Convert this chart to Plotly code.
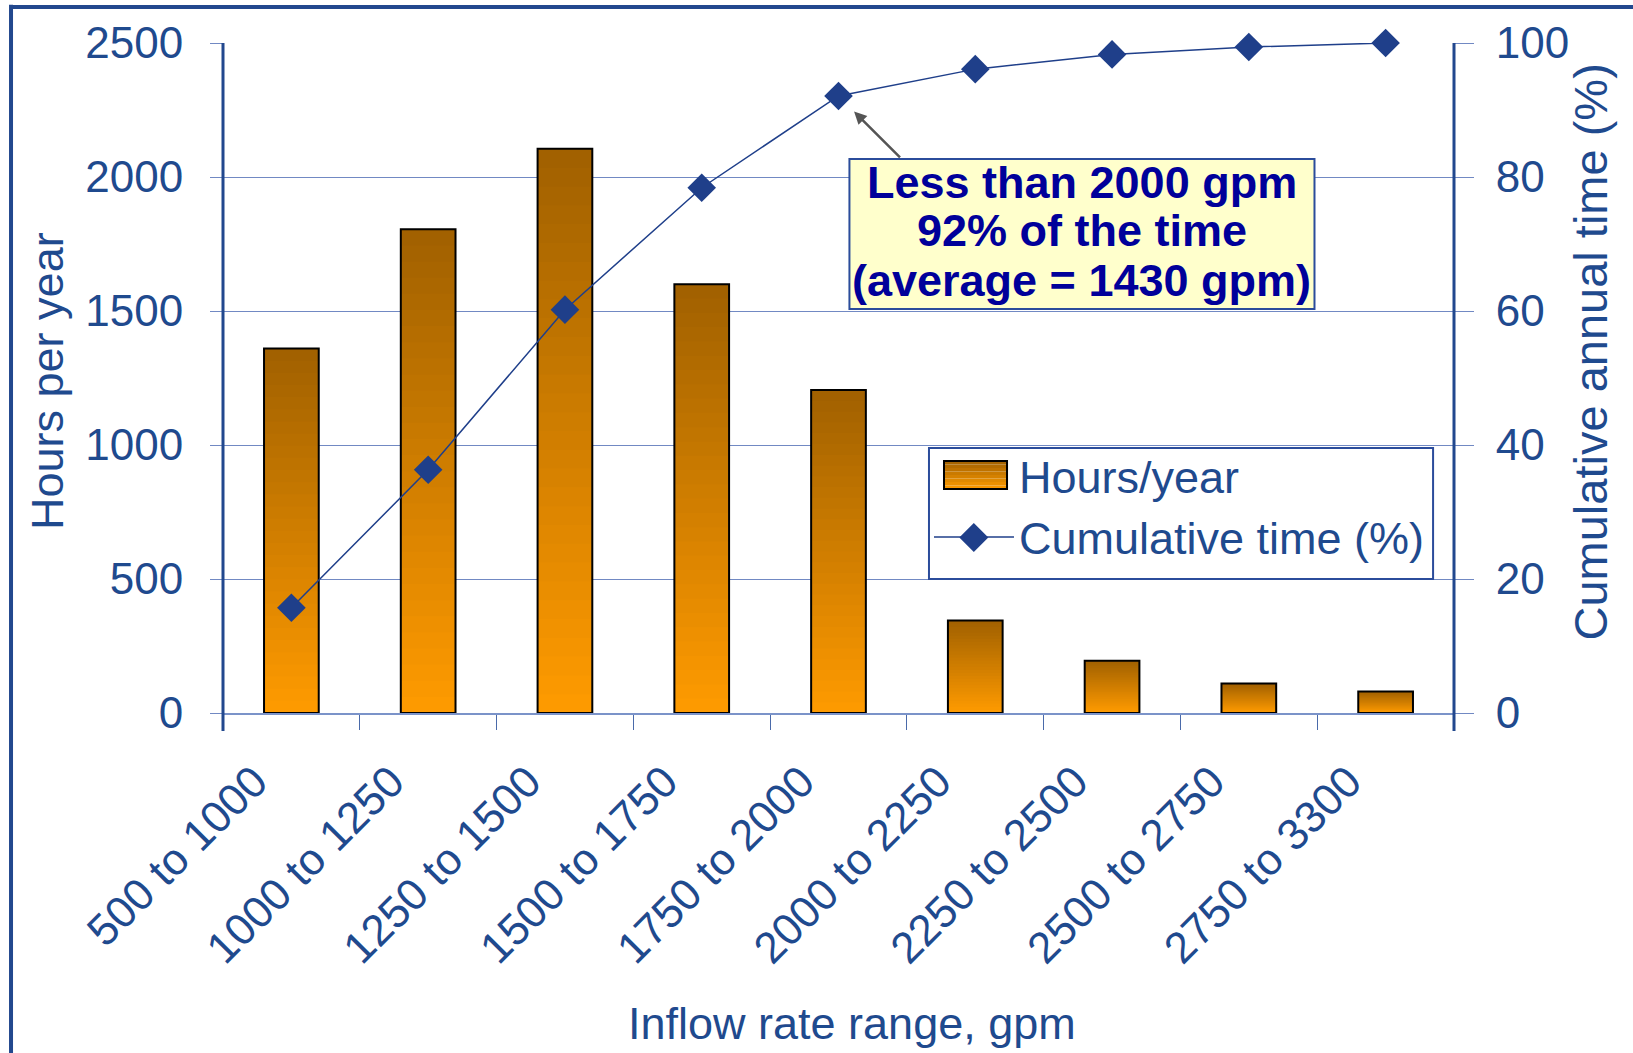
import plotly.graph_objects as go

# ---- data ----
categories = ["500 to 1000", "1000 to 1250", "1250 to 1500", "1500 to 1750",
              "1750 to 2000", "2000 to 2250", "2250 to 2500", "2500 to 2750",
              "2750 to 3300"]
hours_per_year = [1360, 1805, 2105, 1600, 1205, 345, 195, 110, 80]
cumulative_pct = [15.7, 36.3, 60.2, 78.4, 92.1, 96.1, 98.3, 99.4, 100.0]
left_ticks = [0, 500, 1000, 1500, 2000, 2500]
right_ticks = [0, 20, 40, 60, 80, 100]
note_lines = ["Less than 2000 gpm", "92% of the time", "(average = 1430 gpm)"]

# ---- style ----
FONT = "Liberation Sans, Arial, sans-serif"
TXT = "#1f4a8e"
GRID = "#7189c3"
AXIS = "#22488e"
LINE = "#1f3f8a"
TOP_RGB = (160, 96, 0)
BOT_RGB = (255, 155, 0)
BAR_W = 0.4


def grad(t):
    """colour at relative height t (0 = bottom, 1 = top)"""
    return "rgb(%d,%d,%d)" % tuple(
        round(BOT_RGB[i] + (TOP_RGB[i] - BOT_RGB[i]) * t) for i in range(3))


fig = go.Figure()

# gradient bars: overlay progressively shorter, lighter bars
N = 30
for k in range(N):
    frac = 1 - k / N
    t = 1 - (k + 0.5) / N
    fig.add_trace(go.Bar(
        x=categories, y=[h * frac for h in hours_per_year], width=BAR_W,
        marker=dict(color=grad(t), line=dict(width=0)),
        showlegend=False, hoverinfo="skip"))

# outline
fig.add_trace(go.Bar(
    x=categories, y=hours_per_year, width=BAR_W, name="Hours/year",
    marker=dict(color="rgba(0,0,0,0)", line=dict(color="black", width=2)),
    showlegend=False))

# legend entry for bars (swatch drawn as shapes below)
fig.add_trace(go.Bar(
    x=[categories[0]], y=[None], width=BAR_W, name="Hours/year",
    marker=dict(color="rgba(0,0,0,0)", line=dict(width=0)),
    showlegend=True, legendrank=1))

fig.add_trace(go.Scatter(
    x=categories, y=cumulative_pct, yaxis="y2", mode="lines+markers",
    name="Cumulative time (%)", legendrank=2, cliponaxis=False,
    line=dict(color=LINE, width=1.5),
    marker=dict(symbol="diamond", size=22, color=LINE)))

# annotation text lines
note_y = [1978, 1799, 1612]
annotations = []
for txt, yv in zip(note_lines, note_y):
    annotations.append(dict(
        x=5.78, y=yv, xref="x", yref="y", text="<b>%s</b>" % txt,
        showarrow=False, font=dict(family=FONT, size=45, color="#00009a"),
        xanchor="center", yanchor="middle"))

# arrow to the 92% point
annotations.append(dict(
    x=categories[4], y=cumulative_pct[4], xref="x", yref="y2", text="",
    showarrow=True, ax=63, ay=63, arrowhead=2, arrowsize=1, arrowwidth=2.5,
    arrowcolor="#555555", standoff=22))

# axis titles
annotations += [
    dict(x=-0.143, y=0.4955, xref="paper", yref="paper", text="Hours per year",
         textangle=-90, showarrow=False, font=dict(family=FONT, size=45, color=TXT),
         xanchor="center", yanchor="middle"),
    dict(x=1.111, y=0.539, xref="paper", yref="paper", text="Cumulative annual time (%)",
         textangle=-90, showarrow=False, font=dict(family=FONT, size=47, color=TXT),
         xanchor="center", yanchor="middle"),
    dict(x=0.511, y=-0.464, xref="paper", yref="paper", text="Inflow rate range, gpm",
         showarrow=False, font=dict(family=FONT, size=45, color=TXT),
         xanchor="center", yanchor="middle"),
]

shapes = [
    # annotation box
    dict(type="rect", xref="x", yref="y", x0=4.08, x1=7.48, y0=1507, y1=2067,
         fillcolor="#ffffcc", line=dict(color="#2b4c9b", width=2), layer="above"),
    # vertical axis lines
    dict(type="line", xref="paper", yref="paper", x0=0, x1=0, y0=1, y1=-0.027,
         line=dict(color=AXIS, width=3)),
    dict(type="line", xref="paper", yref="paper", x0=1, x1=1, y0=1, y1=-0.027,
         line=dict(color=AXIS, width=3)),
    # outer frame (top and left edges visible)
    dict(type="line", xref="paper", yref="paper", x0=-0.1722, x1=1.2, y0=1.0537, y1=1.0537,
         line=dict(color=AXIS, width=4)),
    dict(type="line", xref="paper", yref="paper", x0=-0.1722, x1=-0.1722, y0=1.057, y1=-0.6,
         line=dict(color=AXIS, width=4)),
    # legend frame
    dict(type="rect", xref="paper", yref="paper", x0=0.5735, x1=0.983, y0=0.2, y1=0.3955,
         fillcolor="rgba(0,0,0,0)", line=dict(color="#2b4c9b", width=2), layer="above"),
    # larger diamond on the legend's line symbol
    dict(type="path", xref="paper", yref="paper", xsizemode="pixel", ysizemode="pixel",
         xanchor=0.6099, yanchor=0.2621, path="M -14.5 0 L 0 14.5 L 14.5 0 L 0 -14.5 Z",
         fillcolor=LINE, line=dict(width=0), layer="above"),
]

# legend swatch for the bars (gradient bands + outline)
SW_X0, SW_X1, SW_Y0, SW_Y1 = 0.5857, 0.6369, 0.3343, 0.3761
NB = 8
for k in range(NB):
    ya = SW_Y0 + (SW_Y1 - SW_Y0) * k / NB
    yb = SW_Y0 + (SW_Y1 - SW_Y0) * (k + 1) / NB
    shapes.append(dict(type="rect", xref="paper", yref="paper",
                       x0=SW_X0, x1=SW_X1, y0=ya, y1=yb,
                       fillcolor=grad((k + 0.5) / NB), line=dict(width=0),
                       layer="above"))
shapes.append(dict(type="rect", xref="paper", yref="paper",
                   x0=SW_X0, x1=SW_X1, y0=SW_Y0, y1=SW_Y1,
                   fillcolor="rgba(0,0,0,0)", line=dict(color="black", width=2),
                   layer="above"))

fig.update_layout(
    width=1633, height=1053,
    margin=dict(l=223, r=179, t=43, b=340),
    paper_bgcolor="white", plot_bgcolor="white",
    barmode="overlay",
    font=dict(family=FONT, size=44, color=TXT),
    xaxis=dict(type="category", range=[-0.5, 8.5], showgrid=False,
               showline=True, linecolor="#7b93c9", linewidth=2,
               ticks="outside", tickson="boundaries", ticklen=15,
               tickcolor="#4a6aaa", tickwidth=1, tickangle=-45,
               ticklabelshift=-37, ticklabelstandoff=23,
               tickfont=dict(family=FONT, size=44, color=TXT)),
    yaxis=dict(range=[0, 2500], tickvals=left_ticks, showgrid=True,
               gridcolor=GRID, gridwidth=1, zeroline=False, showline=False,
               ticks="outside", ticklen=12, tickcolor=GRID, tickwidth=1,
               ticklabelstandoff=18,
               tickfont=dict(family=FONT, size=44, color=TXT)),
    yaxis2=dict(range=[0, 100], tickvals=right_ticks, overlaying="y", side="right",
                showgrid=False, zeroline=False, showline=False,
                ticks="outside", ticklen=19, tickcolor=GRID, tickwidth=1,
                ticklabelstandoff=13,
                tickfont=dict(family=FONT, size=44, color=TXT)),
    legend=dict(x=0.5735, y=0.408, xanchor="left", yanchor="top",
                borderwidth=0, bgcolor="rgba(0,0,0,0)",
                font=dict(family=FONT, size=45, color=TXT), itemwidth=80,
                traceorder="normal"),
    annotations=annotations,
    shapes=shapes,
    showlegend=True,
)

fig.write_html("out.html", config={"displayModeBar": False},
               post_script="document.body.style.margin='0px';")
